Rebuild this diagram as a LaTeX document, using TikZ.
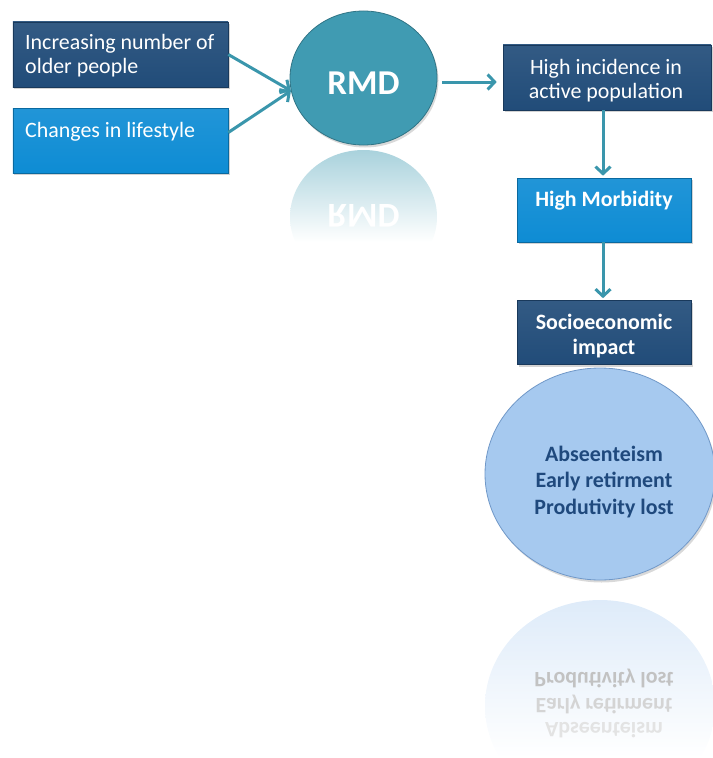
\documentclass[tikz,border=0pt]{standalone}
\usepackage{fontspec}
\setmainfont{Carlito}
\usetikzlibrary{arrows.meta,shadows,shapes.geometric}

\definecolor{navy}{RGB}{33,76,121}
\definecolor{brightblue}{RGB}{14,140,212}
\definecolor{tealc}{RGB}{64,155,178}
\definecolor{arrowc}{RGB}{58,150,172}
\definecolor{paleblue}{RGB}{166,201,239}
\definecolor{paleedge}{RGB}{112,152,200}
\definecolor{darktext}{RGB}{31,73,125}

\tikzset{
  box/.style={rectangle, inner sep=0pt, line width=0.6bp,
    draw=#1!75!black, top color=#1!92!white, bottom color=#1,
    drop shadow={opacity=0.35, shadow xshift=1.5bp, shadow yshift=-2bp}},
  disc/.style={ellipse, inner sep=0pt, line width=0.8bp,
    draw=#1!75!black, fill=#1,
    drop shadow={opacity=0.3, shadow xshift=1.5bp, shadow yshift=-2.5bp}},
  lbl/.style={inner sep=0pt, text=white, font=\fontsize{22}{24}\selectfont},
  blbl/.style={lbl, font=\fontsize{22}{25}\selectfont\bfseries},
  arr/.style={draw=arrowc, line width=3bp,
    -{Straight Barb[length=7bp,width=15bp]}},
}

\begin{document}
\begin{tikzpicture}[x=1bp,y=-1bp]
\useasboundingbox (0,0) rectangle (713,758);

% reflections (drawn first, under everything)
\begin{scope}
  \clip (363.5,217) ellipse [x radius=73.5, y radius=67];
  \shade[top color=tealc!45!white, bottom color=white] (280,150) rectangle (450,242);
\end{scope}
\node[inner sep=0pt, text=white, font=\fontsize{35}{35}\selectfont\bfseries]
  (rmdrefl) at (363.5,216) {\scalebox{1}[-1]{RMD}};

\begin{scope}
  \clip (600,706) ellipse [x radius=115, y radius=106];
  \shade[top color=paleblue!38!white, bottom color=white] (480,596) rectangle (720,758);
\end{scope}
\node[inner sep=0pt, text=black!24, font=\fontsize{22}{22}\selectfont\bfseries]
  (refla) at (604,678) {\scalebox{1}[-1]{Produtivity lost}};
\node[inner sep=0pt, text=black!17, font=\fontsize{22}{22}\selectfont\bfseries]
  (reflb) at (604,704) {\scalebox{1}[-1]{Early retirment}};
\node[inner sep=0pt, text=black!11, font=\fontsize{22}{22}\selectfont\bfseries]
  (reflc) at (604,730) {\scalebox{1}[-1]{Abseenteism}};

% boxes and discs
\node[box=navy, minimum width=215bp, minimum height=65bp] (older) at (120.5,54.5) {};
\node[lbl, anchor=west, align=left] (olderT) at (25,56) {Increasing number of\\older people};

\node[box=brightblue, minimum width=215bp, minimum height=65bp] (life) at (120.5,140.5) {};
\node[lbl, anchor=west] (lifeT) at (25,131.5) {Changes in lifestyle};

\node[disc=tealc, minimum width=147bp, minimum height=134bp] (rmd) at (363.5,78) {};
\node[inner sep=0pt, text=white, font=\fontsize{35}{35}\selectfont\bfseries]
  (rmdT) at (363.5,83) {RMD};

\node[box=navy, minimum width=208bp, minimum height=65bp] (incid) at (607,77.5) {};
\node[lbl, align=center] (incidT) at (606,80.5) {High incidence in\\active population};

\node[box=brightblue, minimum width=174bp, minimum height=64bp] (morb) at (604,210) {};
\node[blbl] (morbT) at (604,201) {High Morbidity};

\node[box=navy, minimum width=174bp, minimum height=64bp] (socio) at (604,332.5) {};
\node[blbl, align=center] (socioT) at (604,336) {Socioeconomic\\impact};

\node[disc=paleblue, draw=paleedge, minimum width=230bp, minimum height=212bp] (impact) at (600,474) {};
\node[inner sep=0pt, align=center, text=darktext,
  font=\fontsize{22}{26.5}\selectfont\bfseries]
  (impactT) at (604,482) {Abseenteism\\Early retirment\\Produtivity lost};

% connectors
\draw[arr] (older.east) -- (rmd.190);
\draw[arr] ([yshift=8bp]life.east) -- (rmd.190);
\draw[arr, shorten <=5bp, shorten >=6bp] ([yshift=-4bp]rmd.east) -- ([yshift=-4bp]rmd.east -| incid.west);
\draw[arr, shorten >=2bp] (incid.south -| 603,0) -- (morb.north -| 603,0);
\draw[arr, shorten >=2bp] (morb.south -| 603,0) -- (socio.north -| 603,0);
\end{tikzpicture}
\end{document}
